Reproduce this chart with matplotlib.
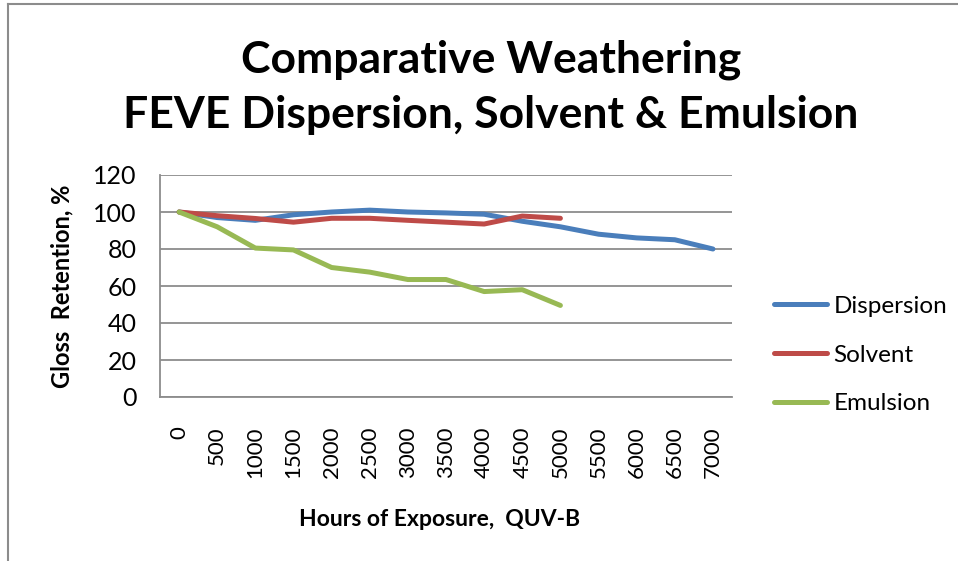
import matplotlib.pyplot as plt
from matplotlib.lines import Line2D

plt.rcParams["font.family"] = ["Lato", "DejaVu Sans"]

hours = ['0', '500', '1000', '1500', '2000', '2500', '3000', '3500',
         '4000', '4500', '5000', '5500', '6000', '6500', '7000']
dispersion = [100, 97, 95.5, 98.5, 100, 101, 100, 99.5, 98.8, 95, 92, 88, 86, 85, 80]
solvent = [100, 98, 96.5, 94.5, 96.6, 96.6, 95.5, 94.5, 93.5, 97.8, 96.6]
emulsion = [100, 92, 80.5, 79.5, 70, 67.5, 63.5, 63.5, 57, 58, 49.5]

W, H = 958, 561
fig = plt.figure(figsize=(W / 100, H / 100), dpi=100)
ax = fig.add_axes([160 / W, 1 - 397 / H, 572 / W, 222 / H])

x = list(range(len(hours)))
ax.plot(x, dispersion, color='#4A7EBB', lw=3.6, label='Dispersion', solid_capstyle='round')
ax.plot(x[:len(solvent)], solvent, color='#BE4B48', lw=3.6, label='Solvent', solid_capstyle='round')
ax.plot(x[:len(emulsion)], emulsion, color='#98B954', lw=3.6, label='Emulsion', solid_capstyle='round')

ax.set_xlim(-0.5, len(hours) - 0.5)
ax.set_ylim(0, 120)
ax.set_yticks(range(0, 121, 20))
ax.set_xticks(x)
ax.set_xticklabels(hours, rotation=90, fontsize=16)
ax.tick_params(axis='y', labelsize=18, length=0, pad=17)
ax.tick_params(axis='x', length=0, pad=21)
ax.grid(axis='y', color='#8C8C8C', lw=1.3)
ax.set_axisbelow(True)
for s in ['top', 'right']:
    ax.spines[s].set_visible(False)
for s in ['left', 'bottom']:
    ax.spines[s].set_color('#8C8C8C')
    ax.spines[s].set_linewidth(1.3)

ax.set_ylabel('Gloss  Retention, %', fontsize=17, fontweight='bold', va='center')
ax.yaxis.set_label_coords(-0.171, 0.5)
ax.set_xlabel('Hours of Exposure,  QUV-B', fontsize=16.5, fontweight='bold', va='center')
ax.xaxis.set_label_coords((440 - 160) / 572, (397 - 520) / 222)

fig.text(491 / W, 1 - 87 / H, 'Comparative Weathering\nFEVE Dispersion, Solvent & Emulsion',
         ha='center', va='center', fontsize=32, fontweight='bold', linespacing=1.45)

ax.legend(loc='center left', bbox_to_anchor=(752 / W, 1 - 355 / H), bbox_transform=fig.transFigure,
          frameon=False, fontsize=17.5, handlelength=2.2, labelspacing=1.15, handletextpad=0.25)

fig.add_artist(Line2D([8 / W, 8 / W], [0, 1 - 4 / H], color='#8C8C8C', lw=1.5))
fig.add_artist(Line2D([8 / W, 1], [1 - 4 / H, 1 - 4 / H], color='#8C8C8C', lw=1.5))

fig.savefig('out.png', dpi=100)
